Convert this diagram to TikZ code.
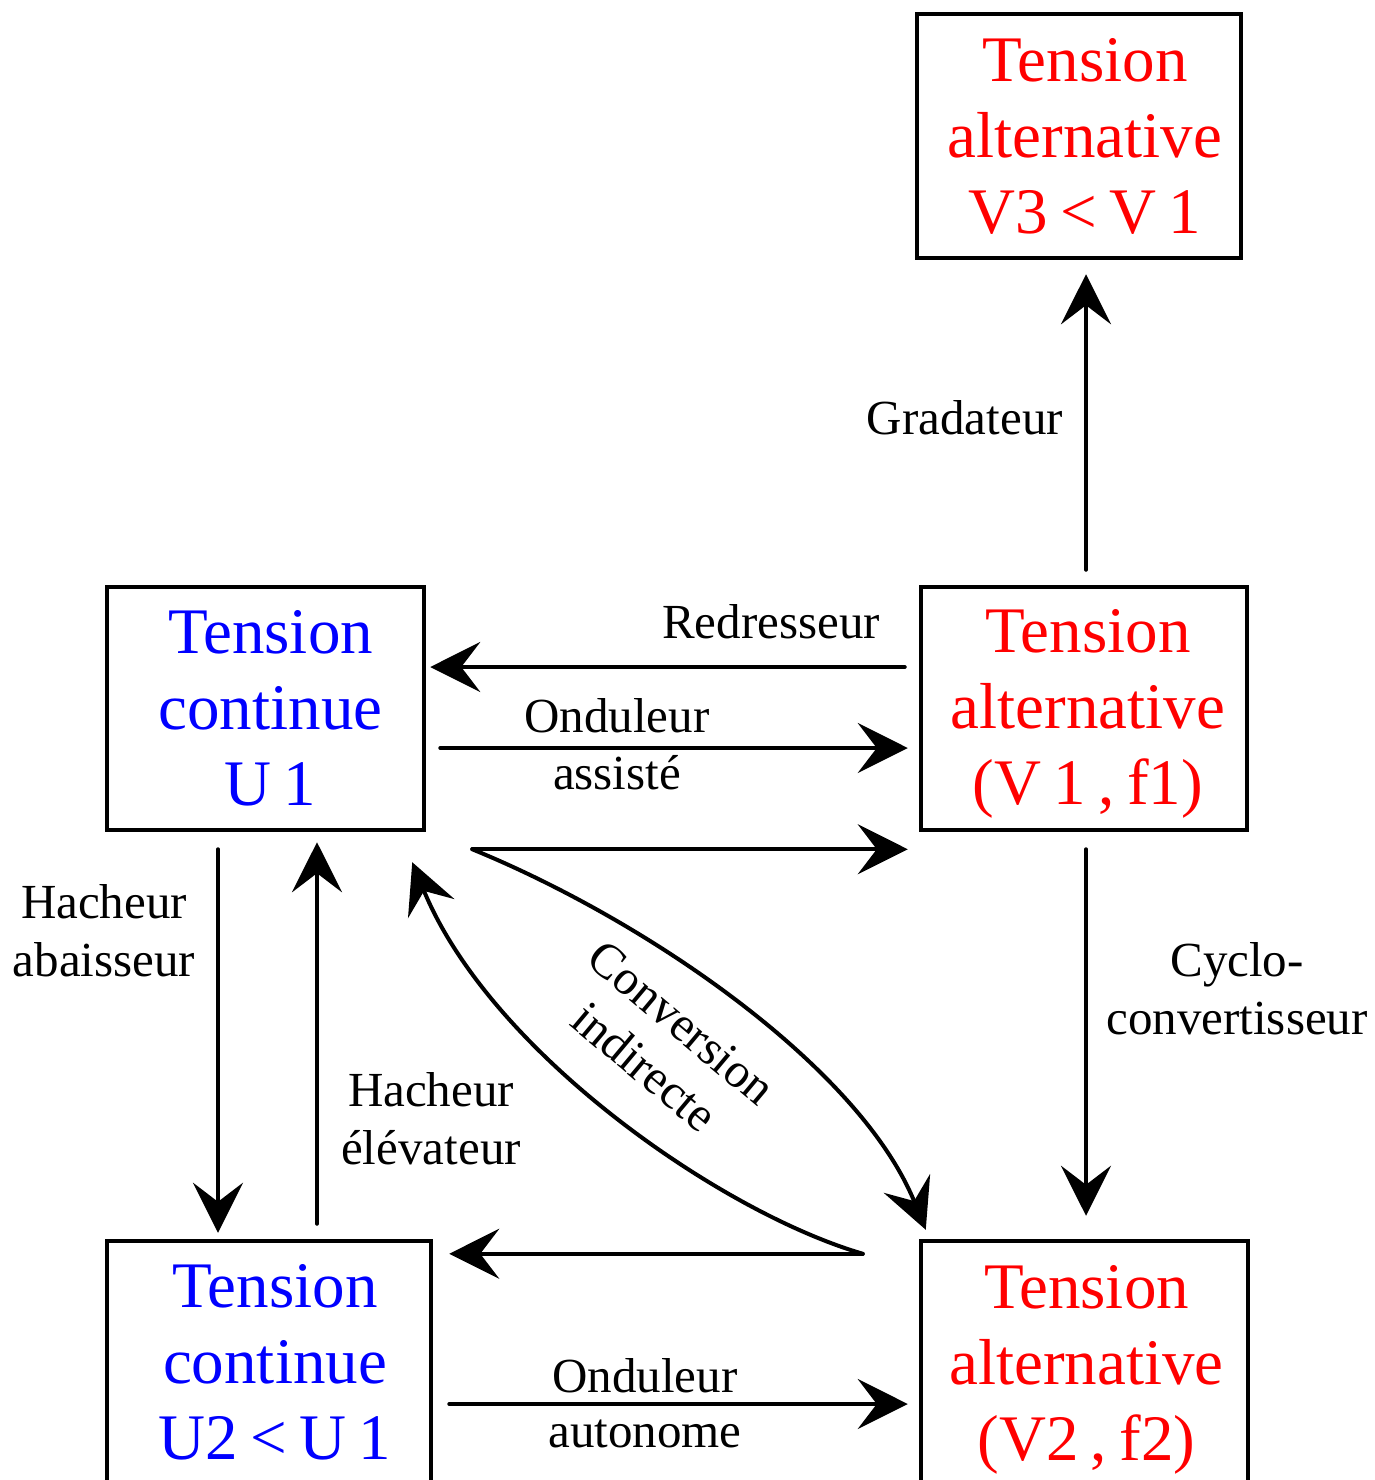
\documentclass[tikz,border=0pt]{standalone}
\usepackage{fontspec}
\setmainfont{Liberation Serif}
\usetikzlibrary{arrows.meta}
\newcommand{\nsp}{\hspace{0.19em}}
\begin{document}
\begin{tikzpicture}[x=1pt,y=-1pt,
  box/.style={draw, line width=4.5pt, minimum width=#1, minimum height=243pt, inner sep=0pt},
  btxt/.style={align=center, inner sep=0pt, font=\fontsize{65}{76}\selectfont},
  actxt/.style={btxt, text=red},
  dctxt/.style={btxt, text=blue},
  lbl/.style={align=center, inner sep=0pt, font=\fontsize{49}{58}\selectfont},
  arr/.style={line width=4pt, line cap=round, -{Stealth[length=50pt,width=50pt,inset=19pt]}}
]
\useasboundingbox (0,0) rectangle (1374,1480);
\clip (0,0) rectangle (1374,1480);

% boxes
\node[box=324pt, minimum height=244pt] (top) at (1079,136) {};
\node[box=317pt] (ml) at (265.5,708.5) {};
\node[box=326pt] (mr) at (1084,708.5) {};
\node[box=324pt] (bl) at (269,1362.5) {};
\node[box=327pt] (br) at (1084.5,1362.5) {};

% box texts
\node[actxt] (toptxt) at ([shift={(6,0)}]top.center) {Tension\\alternative\\V3\nsp{<}\nsp V\nsp 1};
\node[dctxt] (mltxt) at ([shift={(5,0)}]ml.center) {Tension\\continue\\U\nsp 1};
\node[actxt] (mrtxt) at ([shift={(4,5)}]mr.center) {Tension\\alternative\\(V\nsp 1\nsp ,\nsp f1)};
\node[dctxt] (bltxt) at ([shift={(6,0)}]bl.center) {Tension\\continue\\U2\nsp{<}\nsp U\nsp 1};
\node[actxt] (brtxt) at ([shift={(2,7)}]br.center) {Tension\\alternative\\(V2\nsp ,\nsp f2)};

% connectors
\draw[arr] ([shift={(2,-15)}]mr.north) -- ([shift={(7,14)}]top.south);
\draw[arr] ([shift={(-14,-41.5)}]mr.west) -- ([shift={(4,-41.5)}]ml.east);
\draw[arr] ([shift={(14,39.5)}]ml.east) -- ([shift={(-11,39.5)}]mr.west);
\draw[arr] ([shift={(46,17)}]ml.south east) -- ([shift={(-11,17)}]mr.south west);
\draw[arr] ([shift={(46,17)}]ml.south east) .. controls (650,922) and (860,1068) .. ([shift={(7,-9)}]br.north west);
\draw[arr] ([shift={(-56,15)}]br.north west) .. controls (720,1212) and (490,1052) .. ([shift={(-14,30)}]ml.south east);
\draw[arr] ([shift={(-56,15)}]br.north west) -- ([shift={(16,15)}]bl.north east);
\draw[arr] ([shift={(16,41.5)}]bl.east) -- ([shift={(-11,41.5)}]br.west);
\draw[arr] ([shift={(-47.5,17)}]ml.south) -- ([shift={(-51,-6)}]bl.north);
\draw[arr] ([shift={(48,-15)}]bl.north) -- ([shift={(51.5,10)}]ml.south);
\draw[arr] ([shift={(2,17)}]mr.south) -- ([shift={(1.5,-23)}]br.north);

% labels
\node[lbl, anchor=east] (lgrad) at (1063,418) {Gradateur};
\node[lbl] (lred) at (771,622) {Redresseur};
\node[lbl] (lond1) at (617,716) {Onduleur};
\node[lbl] (lass) at (617,773) {assisté};
\node[lbl] (lhab) at (104,931) {Hacheur\\abaisseur};
\node[lbl] (lhel) at (431,1119) {Hacheur\\élévateur};
\node[lbl] (lcyc) at (1237,989) {Cyclo-\\convertisseur};
\node[lbl] (lond2) at (645,1376) {Onduleur};
\node[lbl] (laut) at (645,1434) {autonome};
\node[lbl, rotate=-40] (lconv) at (663,1045) {Conversion\\indirecte};
\end{tikzpicture}
\end{document}
